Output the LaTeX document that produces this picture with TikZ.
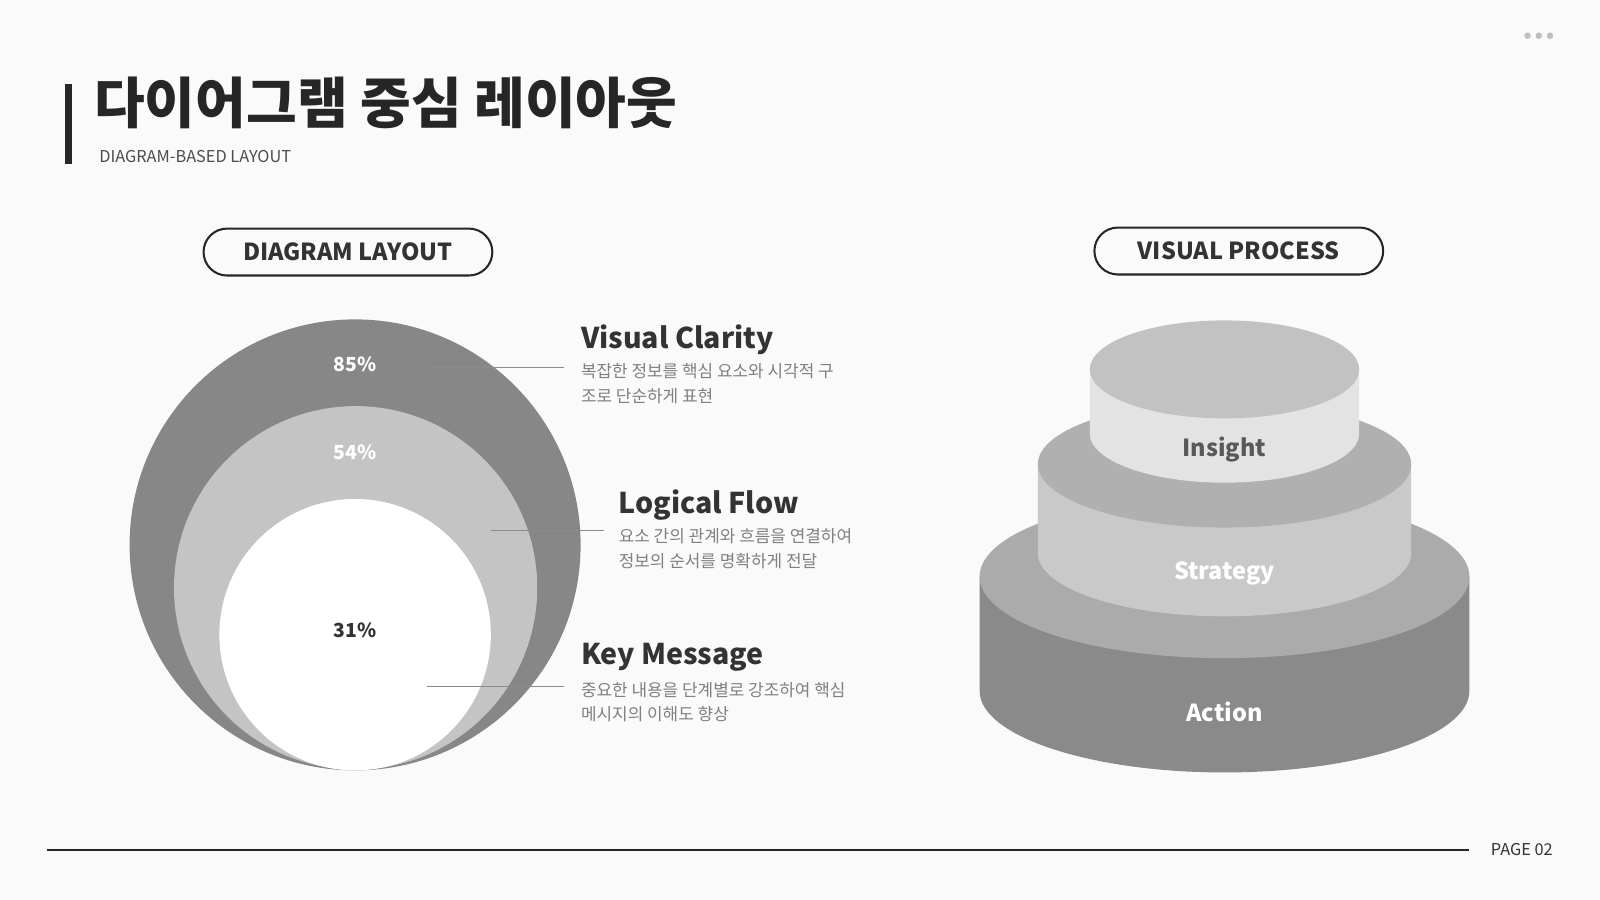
\documentclass[tikz,border=0pt]{standalone}
\usepackage{fontspec}
\setmainfont{Noto Sans CJK KR}
\newfontfamily\krb{Noto Sans CJK KR}[FakeBold=0]
\begin{document}
\begin{tikzpicture}[x=0.5pt,y=-0.5pt,
  pill/.style={draw=black!85,line width=1pt,rounded corners=11.5pt,minimum width=141.5pt,minimum height=23pt,font=\bfseries\fontsize{11.5}{13}\selectfont,text=black!80},
  head/.style={anchor=west,font=\bfseries\fontsize{14}{16}\selectfont,text=black!80,inner sep=0},
  desc/.style={anchor=north west,align=left,font=\fontsize{8.3}{12}\selectfont,text=black!50,inner sep=0},
  lead/.style={draw=black!45,line width=0.5pt},
  pct/.style={font=\bfseries\fontsize{9.5}{11}\selectfont,inner sep=0},
  lab/.style={font=\bfseries\fontsize{11.5}{13}\selectfont,inner sep=0}]
\fill[fill={rgb,255:red,250;green,250;blue,250}] (0,0) rectangle (1568,882);
\useasboundingbox (0,0) rectangle (1568,882);
% dots
\foreach \x in {1497,1508,1519} \fill[black!25] (\x,35) circle (3.2);
% title
\fill[black!85] (64,82) rectangle (71,161);
\node[anchor=west,inner sep=0,font=\bfseries\fontsize{27}{30}\selectfont,text=black!85] (title) at (92,101) {다이어그램 중심 레이아웃};
\node[anchor=west,inner sep=0,font=\fontsize{8}{10}\selectfont,text=black!70] (sub) at (97,153) {DIAGRAM-BASED LAYOUT};
% pills
\node[pill] (p1) at (341,247) {DIAGRAM LAYOUT};
\node[pill] (p2) at (1214,246) {VISUAL PROCESS};
% circles
\fill[black!47] (348,534) circle (221);
\fill[black!23] (348.5,576) circle (178);
\fill[white] (348,622) circle (133);
\node[pct,text=white] (c85) at (348,357) {85\%};
\node[pct,text=white] (c54) at (348,443) {54\%};
\node[pct,text=black!80] (c31) at (348,618) {31\%};
\coordinate (e1) at (553,360); \coordinate (e2) at (592,520); \coordinate (e3) at (553,673);
\coordinate (s1) at (418,360); \coordinate (s2) at (481,520); \coordinate (s3) at (418,673);
\draw[lead] (s1) -- (e1); \draw[lead] (s2) -- (e2); \draw[lead] (s3) -- (e3);
\node[head] (h1) at (569,333) {Visual Clarity};
\node[desc] (d1) at (569,356) {복잡한 정보를 핵심 요소와 시각적 구\\조로 단순하게 표현};
\node[head] (h2) at (606,495) {Logical Flow};
\node[desc] (d2) at (606,518) {요소 간의 관계와 흐름을 연결하여\\정보의 순서를 명확하게 전달};
\node[head] (h3) at (569,644) {Key Message};
\node[desc] (d3) at (569,668) {중요한 내용을 단계별로 강조하여 핵심\\메시지의 이해도 향상};
% stack
\def\cyl#1#2#3#4#5#6{% cx rx ytop ybot ry ; side colour #6 top colour via \topc
  \fill[#6] (1200+#2,#4) arc (0:180:#2 and #5) -- (1200-#2,#3) -- (1200+#2,#3) -- cycle;}
\cyl{1200}{240}{565}{677}{80}{black!46}
\fill[black!33] (1200,565) ellipse (240 and 80);
\cyl{1200}{183}{455}{542}{62}{black!21}
\fill[black!31] (1200,455) ellipse (183 and 62);
\cyl{1200}{132}{362}{425}{48}{black!11}
\fill[black!24] (1200,362) ellipse (132 and 48);
\node[lab,text=black!65] (ins) at (1200,441) {Insight};
\node[lab,text=white] (str) at (1200,562) {Strategy};
\node[lab,text=white] (act) at (1200,698) {Action};
% footer
\coordinate (f1) at (46,833); \coordinate (f2) at (1440,833);
\draw[black!85,line width=0.6pt] (f1) -- (f2);
\node[anchor=east,inner sep=0,font=\fontsize{8}{10}\selectfont,text=black!80] (pg) at (1522,833) {PAGE 02};
\end{tikzpicture}
\end{document}
